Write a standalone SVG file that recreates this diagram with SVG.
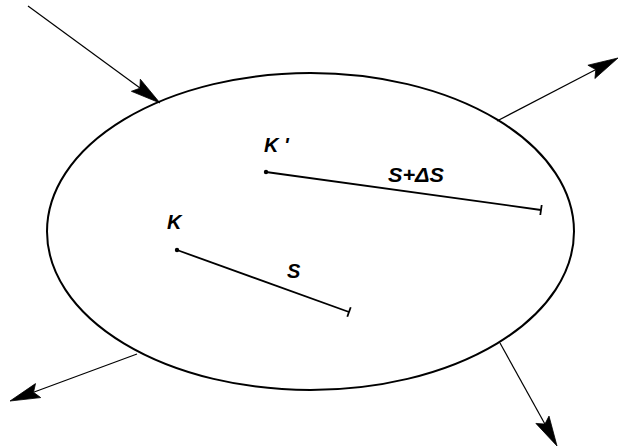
<svg xmlns="http://www.w3.org/2000/svg" width="619" height="448" viewBox="0 0 619 448">
<style>
.lbl{font-family:"Liberation Sans",Arial,sans-serif;font-weight:bold;font-style:italic;font-size:20px;fill:#000}
.arr{stroke:#000;stroke-width:1.2;fill:none}
.head{fill:#000;stroke:#000;stroke-width:0.8;stroke-linejoin:miter}
.seg{stroke:#000;stroke-width:1.8;fill:none}
</style>
<rect width="619" height="448" fill="#fff"/>
<g id="region">
<ellipse cx="310.5" cy="231.5" rx="263.5" ry="158.5" fill="none" stroke="#000" stroke-width="2"/>
</g>
<g id="connectors">
<line class="arr" x1="28" y1="6" x2="140" y2="88"/>
<polygon class="head" points="160,103 131.4,91.3 139.9,88.2 140.3,79.2"/>
<line class="arr" x1="497" y1="121" x2="596" y2="69.5"/>
<polygon class="head" points="618,58 594.9,78.5 595.8,69.6 587.9,65.2"/>
<line class="arr" x1="137" y1="354" x2="33.5" y2="392.3"/>
<polygon class="head" points="10,401 35.5,383.6 33.5,392.3 40.7,397.6"/>
<line class="arr" x1="500" y1="343" x2="544.9" y2="424"/>
<polygon class="head" points="557,446 535.9,423.4 544.9,424.1 549,416.1"/>
</g>
<g id="segKp">
<line class="seg" x1="266" y1="172" x2="541" y2="210"/>
<circle cx="266" cy="172" r="2.2" fill="#000"/>
<line class="seg" x1="541.7" y1="205" x2="540.3" y2="215"/>
<text class="lbl" x="264" y="152">K '</text>
<text class="lbl" x="388" y="182" textLength="56" lengthAdjust="spacingAndGlyphs">S+ΔS</text>
</g>
<g id="segK">
<line class="seg" x1="177" y1="250" x2="349" y2="312"/>
<circle cx="177" cy="250" r="2.2" fill="#000"/>
<line class="seg" x1="350.7" y1="307.3" x2="347.3" y2="316.7"/>
<text class="lbl" x="167" y="229">K</text>
<text class="lbl" x="287" y="278">S</text>
</g>
</svg>
